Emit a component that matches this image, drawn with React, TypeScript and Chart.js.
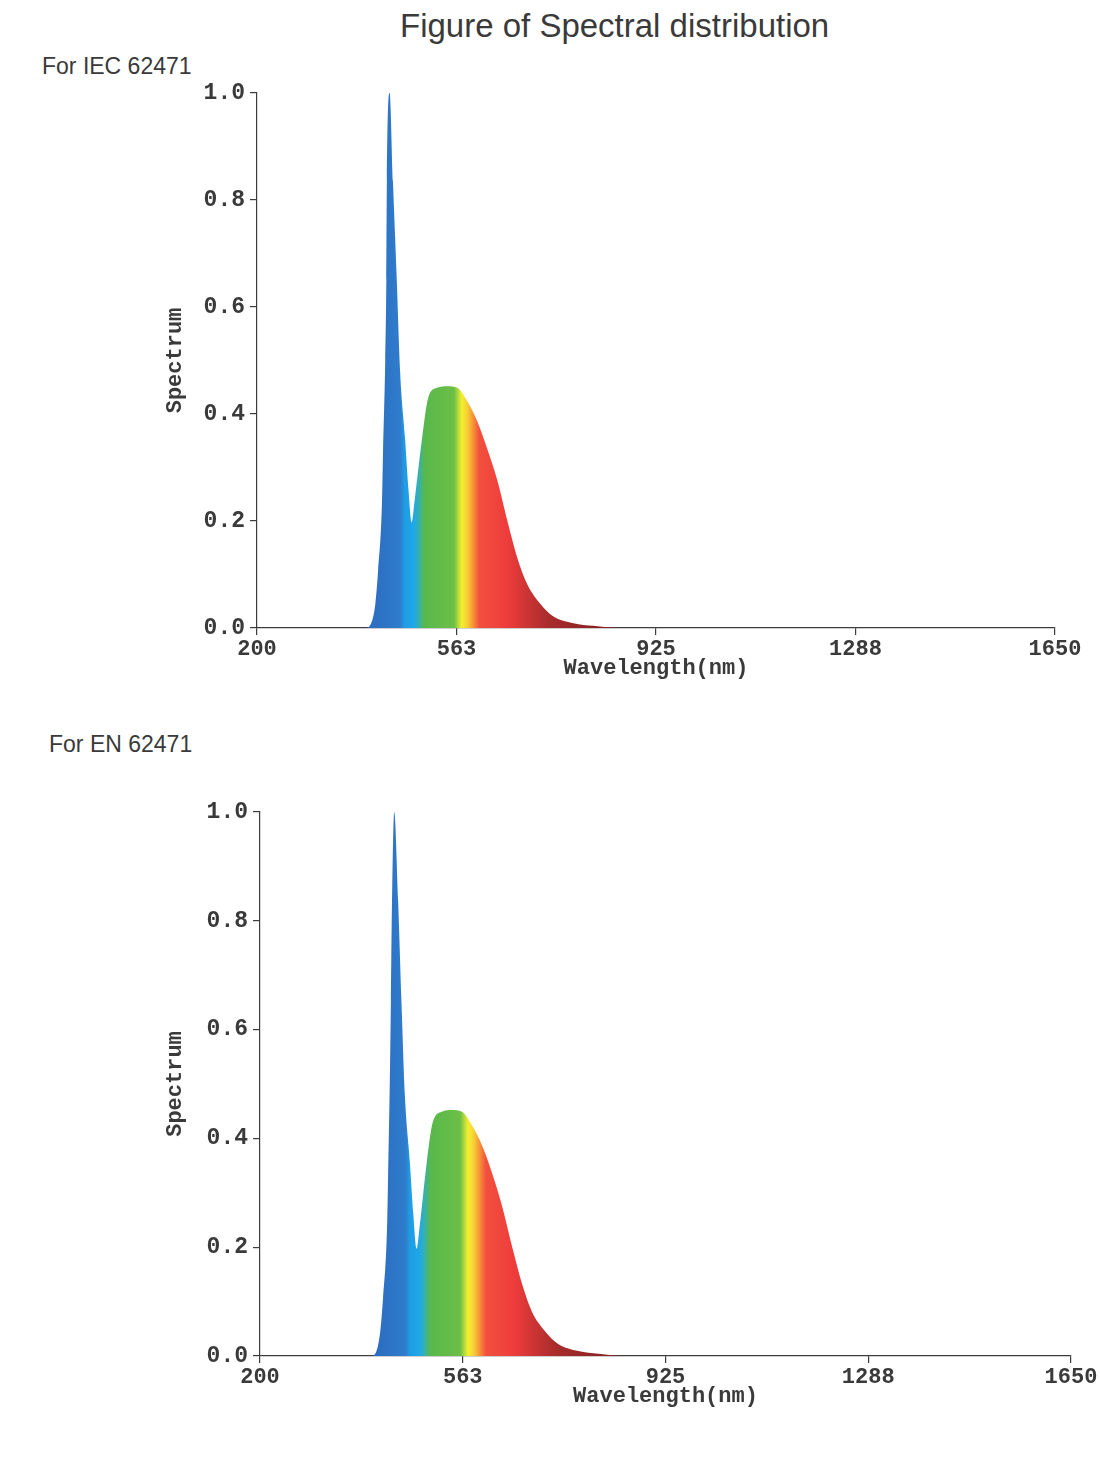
import React, { useEffect, useRef } from "react";
import { Chart, registerables } from "chart.js";

Chart.register(...registerables);

// ---- data ----
const iecWavelengthNm = [200, 398, 405, 415, 420, 427, 429, 433, 435, 436, 441, 447, 454, 460, 469, 475, 481, 487, 500, 511, 527, 546, 564, 582, 600, 618, 637, 655, 673, 691, 715, 738, 775, 811, 860, 1650];
const iecSpectrum = [0, 0, 0.004, 0.045, 0.107, 0.232, 0.33, 0.5, 0.65, 0.835, 1.0, 0.835, 0.65, 0.48, 0.355, 0.262, 0.197, 0.243, 0.355, 0.43, 0.449, 0.452, 0.449, 0.424, 0.387, 0.336, 0.275, 0.2, 0.131, 0.082, 0.045, 0.022, 0.009, 0.004, 0, 0];

const enWavelengthNm = [200, 398, 406, 415, 420, 427, 429, 432, 434, 436, 440, 447, 453, 459, 468, 474, 480, 486, 498, 509, 525, 543, 561, 579, 597, 615, 633, 651, 669, 686, 710, 733, 769, 805, 853, 1650];
const enSpectrum = [0, 0, 0.004, 0.045, 0.107, 0.232, 0.33, 0.5, 0.65, 0.835, 1.0, 0.835, 0.65, 0.48, 0.355, 0.262, 0.197, 0.243, 0.355, 0.43, 0.449, 0.452, 0.449, 0.424, 0.387, 0.336, 0.275, 0.2, 0.131, 0.082, 0.045, 0.022, 0.009, 0.004, 0, 0];

const xTickValues = [200, 562.5, 925, 1287.5, 1650];
const xTickLabels = ["200", "563", "925", "1288", "1650"];
const yTickValues = [0, 0.2, 0.4, 0.6, 0.8, 1.0];
const yTickLabels = ["0.0", "0.2", "0.4", "0.6", "0.8", "1.0"];

// spectral colour stops (wavelength nm -> colour)
const colorStopNm = [405, 460, 468, 485, 494, 504, 558, 566, 572, 582, 590, 604, 655, 690, 730, 810];
const colorStopHex = ["#2c6cc0", "#2f7ccc", "#1f9ce4", "#1ea8e8", "#35b0b0", "#58b84c", "#6cbf46", "#b8dc3c", "#f4ef2e", "#f6d036", "#f8a236", "#f2503e", "#ee3c3c", "#cc3434", "#a82c2c", "#8c2424"];

const AXIS = "#3c3c3c";
const TEXT = "#3a3a3a";
const MONO = "'Liberation Mono', 'Courier New', monospace";

type Props = {
  wl: number[];
  values: number[];
  left: number;
  top: number;
  width: number;
  height: number;
  yWidth: number;
  xHeight: number;
  padTop: number;
  padRight: number;
};

function SpectrumChart(p: Props) {
  const ref = useRef<HTMLCanvasElement>(null);
  useEffect(() => {
    const canvas = ref.current!;
    const chart = new Chart(canvas, {
      type: "line",
      data: {
        datasets: [
          {
            data: p.wl.map((x, i) => ({ x, y: p.values[i] })),
            fill: "origin",
            pointRadius: 0,
            borderWidth: 0,
            borderColor: "rgba(0,0,0,0)",
            cubicInterpolationMode: "monotone",
            backgroundColor: (ctx: any) => {
              const c = ctx.chart;
              if (!c.chartArea) return colorStopHex[0];
              const xs = c.scales.x;
              const n0 = colorStopNm[0];
              const n1 = colorStopNm[colorStopNm.length - 1];
              const g = c.ctx.createLinearGradient(xs.getPixelForValue(n0), 0, xs.getPixelForValue(n1), 0);
              colorStopNm.forEach((nm, i) => g.addColorStop((nm - n0) / (n1 - n0), colorStopHex[i]));
              return g;
            },
          },
        ],
      },
      options: {
        responsive: false,
        animation: false,
        layout: { padding: { top: p.padTop, right: p.padRight, left: 0, bottom: 0 } },
        plugins: { legend: { display: false }, tooltip: { enabled: false } },
        scales: {
          x: {
            type: "linear",
            min: 200,
            max: 1650,
            afterBuildTicks: (s: any) => {
              s.ticks = xTickValues.map((v) => ({ value: v }));
            },
            afterFit: (s: any) => {
              s.height = p.xHeight;
            },
            ticks: {
              autoSkip: false,
              maxRotation: 0,
              padding: 1,
              color: TEXT,
              font: { family: MONO, size: 22, weight: "bold" },
              callback: (v: any) => xTickLabels[xTickValues.indexOf(Number(v))],
            },
            grid: { drawOnChartArea: false, drawTicks: true, tickLength: 7, color: AXIS, lineWidth: 1.2 },
            border: { display: true, color: AXIS, width: 1.2 },
            title: {
              display: true,
              text: "Wavelength(nm)",
              color: TEXT,
              font: { family: MONO, size: 22, weight: "bold" },
              padding: { top: 0, bottom: 8 },
            },
          },
          y: {
            type: "linear",
            min: 0,
            max: 1,
            afterBuildTicks: (s: any) => {
              s.ticks = yTickValues.map((v) => ({ value: v }));
            },
            afterFit: (s: any) => {
              s.width = p.yWidth;
            },
            ticks: {
              padding: 5,
              color: TEXT,
              font: { family: MONO, size: 23, weight: "bold" },
              callback: (v: any) => yTickLabels[yTickValues.indexOf(Number(v))],
            },
            grid: { drawOnChartArea: false, drawTicks: true, tickLength: 7, color: AXIS, lineWidth: 1.2 },
            border: { display: true, color: AXIS, width: 1.2 },
            title: {
              display: true,
              text: "Spectrum",
              color: TEXT,
              font: { family: MONO, size: 22, weight: "bold" },
              padding: { top: 22, bottom: 0 },
            },
          },
        },
      },
    } as any);
    return () => chart.destroy();
  }, []);
  return (
    <canvas
      ref={ref}
      width={p.width}
      height={p.height}
      style={{ position: "absolute", left: p.left, top: p.top, width: p.width, height: p.height }}
    />
  );
}

export default function App() {
  const sans = "'Liberation Sans', Arial, sans-serif";
  return (
    <div style={{ position: "absolute", left: 0, top: 0, width: 1100, height: 1472, background: "#fff", overflow: "hidden" }}>
      <div style={{ position: "absolute", left: 400, top: 7, fontFamily: sans, fontSize: 33, lineHeight: "38px", color: TEXT, whiteSpace: "nowrap" }}>
        Figure of Spectral distribution
      </div>
      <div style={{ position: "absolute", left: 42, top: 53, fontFamily: sans, fontSize: 23, lineHeight: "26px", color: TEXT, whiteSpace: "nowrap" }}>
        For IEC 62471
      </div>
      <div style={{ position: "absolute", left: 49, top: 731, fontFamily: sans, fontSize: 23, lineHeight: "26px", color: TEXT, whiteSpace: "nowrap" }}>
        For EN 62471
      </div>
      <SpectrumChart
        wl={iecWavelengthNm}
        values={iecSpectrum}
        left={140}
        top={70}
        width={960}
        height={620}
        yWidth={117}
        xHeight={62}
        padTop={23}
        padRight={45}
      />
      <SpectrumChart
        wl={enWavelengthNm}
        values={enSpectrum}
        left={140}
        top={790}
        width={960}
        height={628}
        yWidth={120}
        xHeight={62}
        padTop={22}
        padRight={29}
      />
    </div>
  );
}
